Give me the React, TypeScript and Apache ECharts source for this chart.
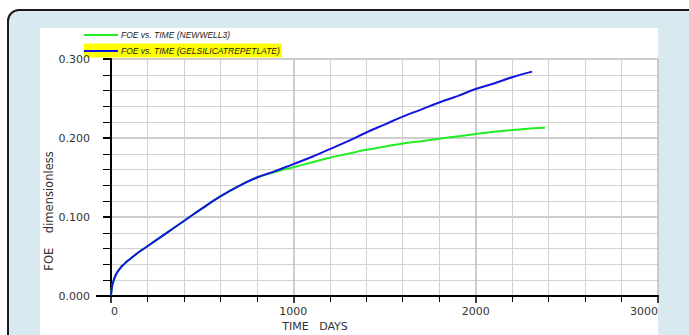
import React, { useEffect, useRef } from 'react';
import * as echarts from 'echarts';

const seriesNames = ['FOE vs. TIME (NEWWELL3)', 'FOE vs. TIME (GELSILICATREPETLATE)'];

const greenDays = [0, 5, 10, 25, 50, 75, 100, 150, 200, 300, 400, 500, 600, 700, 800, 900, 1000, 1100, 1200, 1300, 1400, 1500, 1600, 1700, 1800, 1900, 2000, 2100, 2200, 2300, 2380];
const greenFoe = [0, 0.011, 0.016, 0.026, 0.035, 0.041, 0.046, 0.055, 0.063, 0.079, 0.095, 0.111, 0.126, 0.139, 0.150, 0.157, 0.163, 0.169, 0.175, 0.180, 0.185, 0.189, 0.193, 0.196, 0.199, 0.202, 0.205, 0.208, 0.210, 0.212, 0.213];

const blueDays = [0, 5, 10, 25, 50, 75, 100, 150, 200, 300, 400, 500, 600, 700, 800, 900, 1000, 1100, 1200, 1300, 1400, 1500, 1600, 1700, 1800, 1900, 2000, 2100, 2200, 2310];
const blueFoe = [0, 0.011, 0.016, 0.026, 0.035, 0.041, 0.046, 0.055, 0.063, 0.079, 0.095, 0.111, 0.126, 0.139, 0.150, 0.158, 0.167, 0.176, 0.186, 0.196, 0.207, 0.217, 0.227, 0.236, 0.245, 0.253, 0.262, 0.269, 0.277, 0.284];

const xTickLabels = ['0', '1000', '2000', '3000'];
const yTickLabels = ['0.000', '0.100', '0.200', '0.300'];
const xAxisTitle = 'TIME   DAYS';
const yAxisTitle = 'FOE    dimensionless';

const FONT = '"DejaVu Sans", "Liberation Sans", Arial, sans-serif';
const LEGEND_FONT = '"Liberation Sans", Arial, sans-serif';

export default function App() {
  const ref = useRef<HTMLDivElement>(null);
  useEffect(() => {
    document.body.style.margin = '0';
    const chart = echarts.init(ref.current!, undefined, { renderer: 'svg' });
    const zip = (xs: number[], ys: number[]) => xs.map((x, i) => [x, ys[i]]);
    chart.setOption({
      animation: false,
      backgroundColor: '#ffffff',
      graphic: [
        { type: 'rect', z: -10, shape: { x: 8, y: 10, width: 720, height: 360, r: 11 }, style: { fill: '#d8eaf0', stroke: '#1a1a1a', lineWidth: 2 } },
        { type: 'rect', z: -9, shape: { x: 40, y: 28, width: 618, height: 320 }, style: { fill: '#ffffff' } },
        { type: 'rect', z: -8, shape: { x: 84, y: 43.5, width: 198, height: 14 }, style: { fill: '#ffff00' } },
        { type: 'line', z: 5, shape: { x1: 96, y1: 296, x2: 111, y2: 296 }, style: { stroke: '#000', lineWidth: 2 } },
        { type: 'text', x: 315, y: 326, style: { text: xAxisTitle, fill: '#333', font: `11px ${FONT}`, textAlign: 'center', textVerticalAlign: 'middle' } },
        { type: 'text', x: 49, y: 211, rotation: Math.PI / 2, style: { text: yAxisTitle, fill: '#333', font: `11.5px ${FONT}`, textAlign: 'center', textVerticalAlign: 'middle' } },
      ],
      legend: {
        orient: 'vertical',
        left: 84,
        top: 29,
        padding: 0,
        itemWidth: 34,
        itemHeight: 2,
        itemGap: 4,
        icon: 'rect',
        data: seriesNames,
        textStyle: { fontSize: 8.5, lineHeight: 12, fontStyle: 'italic', color: '#1a1a1a', fontFamily: LEGEND_FONT, padding: [0, 0, 0, -2] },
        z: 10,
      },
      grid: { left: 111, right: 31, top: 59, bottom: 39, containLabel: false },
      xAxis: {
        type: 'value',
        min: 0,
        max: 3000,
        interval: 1000,
        axisLine: { show: true, onZero: false, lineStyle: { color: '#000', width: 2 } },
        axisTick: { show: true, length: 7, lineStyle: { color: '#000', width: 1.5 } },
        minorTick: { show: true, splitNumber: 5, length: 6, lineStyle: { color: '#000', width: 1 } },
        splitLine: { show: true, lineStyle: { color: '#bcbcbc', width: 1.5 } },
        minorSplitLine: { show: true, lineStyle: { color: '#d2d2d2', width: 1 } },
        axisLabel: {
          color: '#333', fontSize: 11, fontFamily: FONT, margin: 10,
          alignMinLabel: 'left', alignMaxLabel: 'right',
          formatter: (v: number) => xTickLabels[Math.round(v / 1000)] ?? '',
        },
      },
      yAxis: {
        type: 'value',
        min: 0,
        max: 0.3,
        interval: 0.1,
        axisLine: { show: true, lineStyle: { color: '#000', width: 2 } },
        axisTick: { show: true, length: 8, lineStyle: { color: '#000', width: 2 } },
        minorTick: { show: true, splitNumber: 5, length: 8, lineStyle: { color: '#000', width: 1 } },
        splitLine: { show: true, lineStyle: { color: '#bcbcbc', width: 1.5 } },
        minorSplitLine: { show: true, lineStyle: { color: '#d2d2d2', width: 1 } },
        axisLabel: {
          color: '#333', fontSize: 11, fontFamily: FONT, margin: 21,
          formatter: (v: number) => yTickLabels[Math.round(v * 10)] ?? '',
        },
      },
      series: [
        {
          name: seriesNames[0], type: 'line', showSymbol: false, smooth: true,
          data: zip(greenDays, greenFoe),
          lineStyle: { color: '#22ee22', width: 2 }, itemStyle: { color: '#22ee22' },
        },
        {
          name: seriesNames[1], type: 'line', showSymbol: false, smooth: true,
          data: zip(blueDays, blueFoe),
          lineStyle: { color: '#1414e0', width: 2 }, itemStyle: { color: '#1414e0' },
        },
      ],
    });
    return () => chart.dispose();
  }, []);
  return <div ref={ref} style={{ position: 'absolute', left: 0, top: 0, width: 689, height: 335 }} />;
}
